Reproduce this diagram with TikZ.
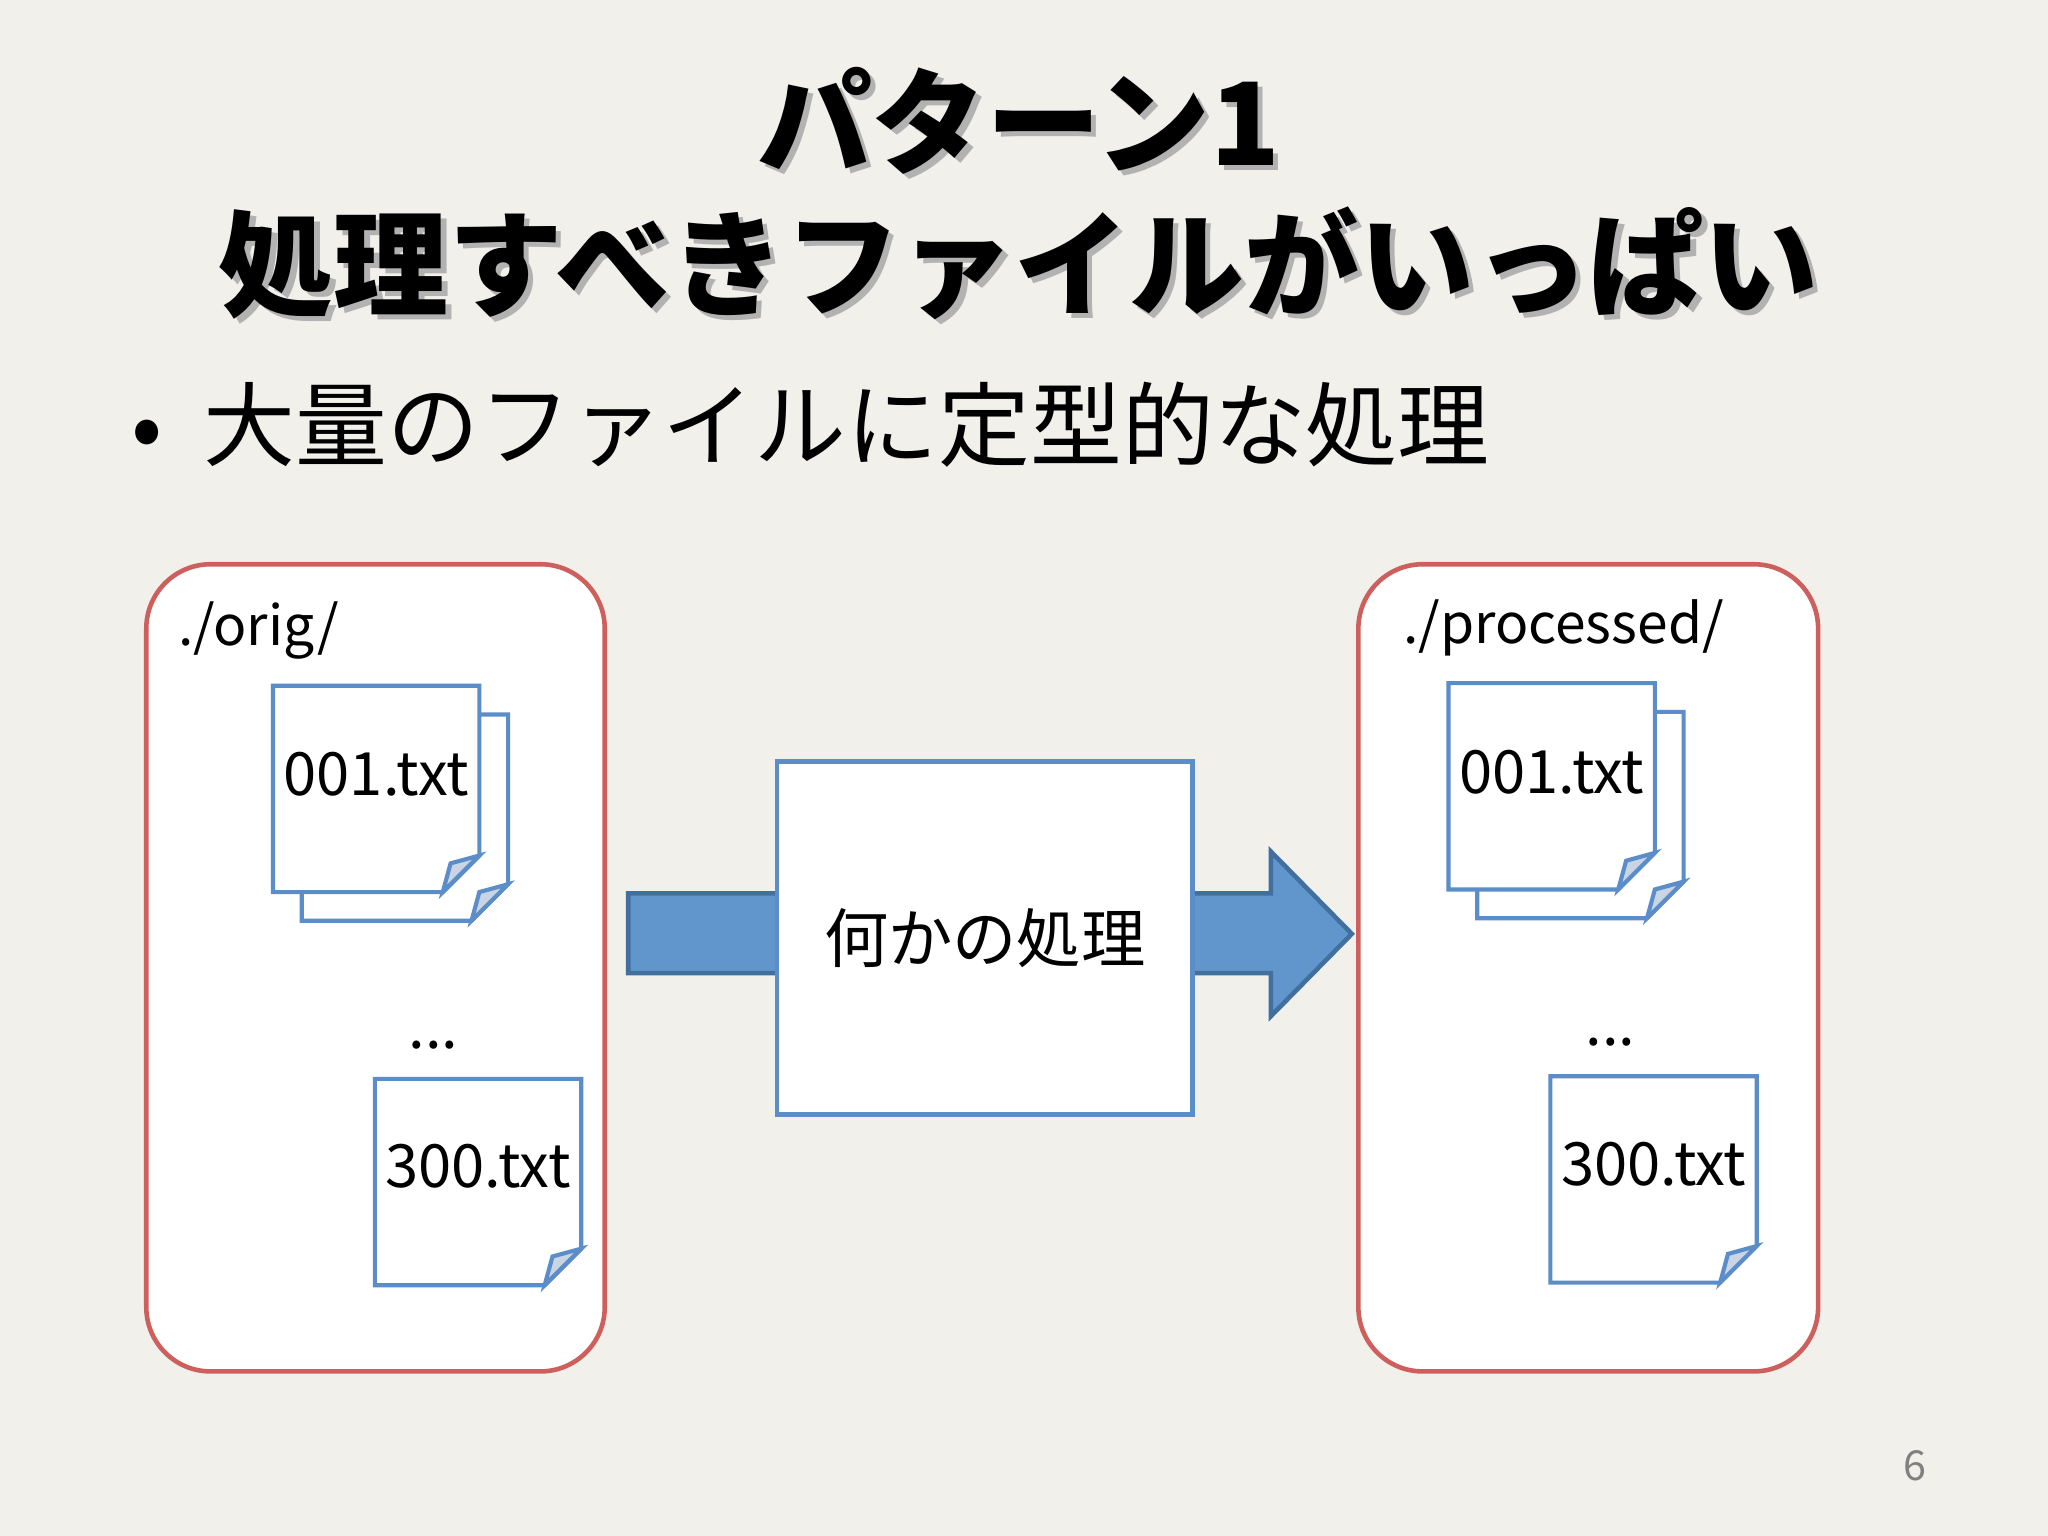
\documentclass[tikz,border=0pt]{standalone}
\usepackage{fontspec}
\setmainfont{Noto Sans CJK JP}
\newfontfamily\cjkb{Noto Sans CJK JP Black}[BoldFont={Noto Sans CJK JP Black}]
\definecolor{bg}{HTML}{F1F0EB}
\definecolor{redb}{HTML}{CD5F5C}
\definecolor{blueb}{HTML}{5B8DC9}
\definecolor{bluef}{HTML}{6096CB}
\definecolor{bluedk}{HTML}{41709F}
\definecolor{foldf}{HTML}{C9D4E4}
\tikzset{
  folder/.style={draw=redb,line width=1pt,fill=white,rounded corners=14pt},
  flab/.style={font=\fontsize{13}{13}\selectfont,anchor=center},
  dlab/.style={font=\fontsize{12}{12}\selectfont,anchor=west},
}
% file shape: lower-left corner (x,y in px), size 158
\newcommand{\myfile}[2]{%
  \draw[blueb,line width=0.9pt,fill=white] (#1,#2) -- (#1+158,#2) -- (#1+158,#2+130) -- (#1+130,#2+158) -- (#1,#2+158) -- cycle;
  \draw[blueb,line width=0.9pt,fill=foldf] (#1+158,#2+130) -- (#1+136,#2+136) -- (#1+130,#2+158) -- cycle;}
\begin{document}
\begin{tikzpicture}[x=0.01cm,y=-0.01cm]
\fill[bg] (0,0) rectangle (1568,1176);
\useasboundingbox (0,0) rectangle (1568,1176);
% title with shadow
\node[text=gray!60,font=\fontsize{25}{31}\selectfont\bfseries,align=center] at (784,152) {パターン1\\処理すべきファイルがいっぱい};
\node (title) [font=\fontsize{25}{31}\selectfont\bfseries,align=center] at (780,148) {パターン1\\処理すべきファイルがいっぱい};
\node (bullet) [anchor=west,font=\fontsize{20}{20}\selectfont] at (88,325) {•\ \ 大量のファイルに定型的な処理};
% folders
\draw[folder] (112,432) rectangle (463,1050);
\draw[folder] (1040,432) rectangle (1392,1050);
\node (orig) [dlab] at (124,483) {./orig/};
\node (proc) [dlab] at (1062,481) {./processed/};
% arrow
\draw[bluedk,line width=1pt,fill=bluef,line join=miter] (481,684) -- (973,684) -- (973,652) -- (1035,715) -- (973,778) -- (973,745) -- (481,745) -- cycle;
\node (proc-box) [draw=blueb,line width=1pt,fill=white,minimum width=3.18cm,minimum height=2.7cm,font=\fontsize{14}{14}\selectfont] at (754,718) {何かの処理};
% left files
\myfile{231}{547}
\myfile{209}{525}
\node (f1) [flab] at (288,593) {001.txt};
\node (dots1) [flab] at (332,800) {...};
\myfile{287}{826}
\node (f2) [flab] at (366,893) {300.txt};
% right files
\myfile{1131}{545}
\myfile{1109}{523}
\node (g1) [flab] at (1188,591) {001.txt};
\node (dots2) [flab] at (1233,798) {...};
\myfile{1187}{824}
\node (g2) [flab] at (1266,891) {300.txt};
\node (pg) [text=gray,font=\fontsize{9}{9}\selectfont] at (1466,1122) {6};
\end{tikzpicture}
\end{document}
